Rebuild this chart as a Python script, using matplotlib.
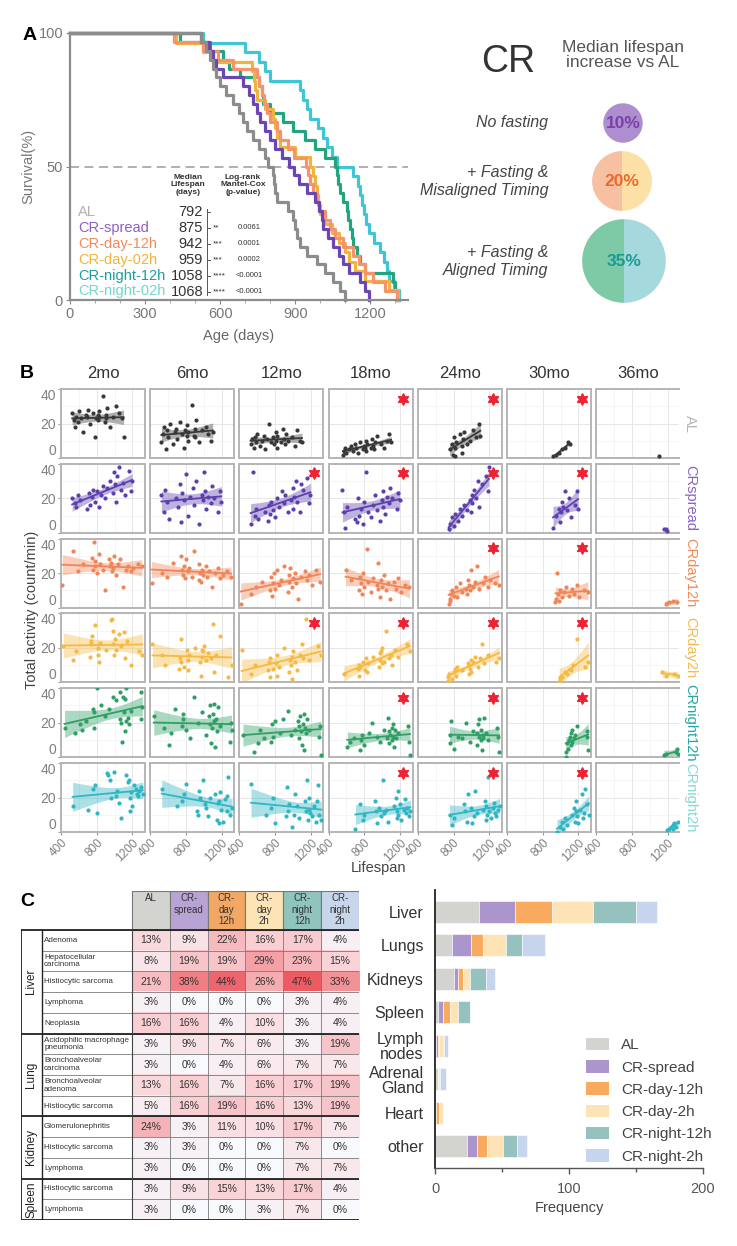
import numpy as np
import matplotlib.pyplot as plt
from matplotlib.colors import LinearSegmentedColormap
from matplotlib.patches import Rectangle, Patch
from matplotlib.lines import Line2D
from matplotlib.ticker import MultipleLocator

plt.rcParams['font.family'] = ['Liberation Sans', 'DejaVu Sans']

W, H = 737, 1246

# ---------------- data ----------------
groups = ['AL', 'CR-spread', 'CR-day-12h', 'CR-day-02h', 'CR-night-12h', 'CR-night-02h']
median_days = [792, 875, 942, 959, 1058, 1068]
sig_stars = ['', '**', '***', '***', '****', '****']
p_values = ['', '0.0061', '0.0001', '0.0002', '<0.0001', '<0.0001']

# age at death (days), one entry per mouse
life_AL = [525, 545, 560, 572, 585, 600, 625, 650, 675, 690, 705, 730, 755, 780, 792,
           810, 815, 820, 825, 870, 890, 900, 905, 918, 945, 985, 1020, 1050, 1080, 1100]
life_spread = [525, 555, 570, 585, 610, 690, 715, 730, 745, 758, 780, 800, 820, 845, 875,
               895, 915, 945, 980, 995, 1005, 1012, 1030, 1050, 1075, 1090, 1115, 1160, 1180, 1195]
life_day12 = [415, 530, 590, 650, 745, 755, 765, 775, 785, 800, 825, 838, 870, 895, 942,
              950, 958, 970, 985, 995, 1020, 1038, 1060, 1090, 1130, 1155, 1180, 1210, 1260, 1305]
life_day02 = [425, 530, 570, 725, 735, 740, 748, 780, 810, 818, 826, 838, 900, 959,
              970, 978, 985, 992, 1000, 1020, 1045, 1075, 1100, 1115, 1140, 1180, 1275, 1310]
life_night12 = [440, 560, 610, 635, 680, 755, 765, 772, 800, 850, 890, 940, 980, 1020, 1058,
                1065, 1072, 1080, 1090, 1105, 1112, 1118, 1125, 1132, 1145, 1158, 1180, 1290, 1300, 1310]
life_night02 = [530, 700, 755, 780, 800, 920, 930, 945, 960, 990, 1010, 1025, 1045, 1068,
                1130, 1150, 1160, 1168, 1175, 1182, 1195, 1215, 1240, 1255, 1265, 1275, 1295, 1315]

pie_labels = ['No fasting', '+ Fasting &\nMisaligned Timing', '+ Fasting &\nAligned Timing']
pie_pct = [10, 20, 35]

# panel B: activity (count/min) per age, mice ordered by lifespan (longest-lived last)
ages = ['2mo', '6mo', '12mo', '18mo', '24mo', '30mo', '36mo']
row_names = ['AL', 'CRspread', 'CRday12h', 'CRday2h', 'CRnight12h', 'CRnight2h']
act_AL = [
    [26, 22, 18, 24, 21, 27, 23, 15, 25, 24, 28, 20, 26, 12, 23, 25, 22, 27, 24, 36, 21, 25, 23, 29, 18, 24, 30, 26, 23, 12],
    [9, 14, 18, 5, 16, 12, 20, 8, 15, 17, 11, 21, 14, 6, 16, 13, 19, 10, 15, 31, 13, 17, 12, 22, 9, 16, 18, 14, 10, 15],
    [8, 11, 6, 12, 9, 14, 7, 10, 13, 5, 11, 20, 9, 12, 8, 15, 10, 6, 13, 9, 17, 11, 8, 14, 10, 12, 7, 16, 10, 9],
    [2, 4, 6, 3, 5, 7, 4, 8, 6, 3, 9, 5, 7, 6, 10, 4, 8, 6, 11, 7, 5, 9, 13, 8, 6, 10, 14, 9],
    [5, 8, 2, 12, 6, 1, 9, 14, 7, 3, 11, 15, 8, 10, 16, 12, 20, 13],
    [1, 2, 3, 5, 6, 9, 8],
    [1]]
act_spread = [
    [20, 17, 15, 22, 19, 14, 23, 16, 21, 25, 18, 24, 15, 22, 27, 20, 26, 30, 23, 35, 28, 18, 33, 38, 25, 29, 22, 36, 24, 30],
    [22, 12, 25, 18, 8, 20, 15, 28, 6, 23, 19, 34, 10, 21, 26, 16, 30, 5, 22, 19, 35, 24, 14, 21, 17, 27, 20, 12, 24, 18],
    [5, 35, 10, 14, 8, 12, 7, 16, 11, 18, 13, 9, 20, 15, 24, 17, 22, 12, 19, 26, 14, 21, 30, 18, 12, 28, 25, 32, 17, 22],
    [25, 12, 3, 15, 8, 6, 20, 10, 14, 5, 18, 35, 12, 9, 16, 22, 13, 7, 19, 24, 15, 11, 21, 17, 26, 20, 14, 23, 19],
    [2, 5, 9, 4, 11, 7, 14, 10, 16, 13, 19, 12, 22, 17, 25, 20, 30, 15, 28, 33, 24, 38],
    [3, 10, 14, 6, 12, 18, 15, 24, 13, 20, 9, 16, 24, 14],
    [2, 2, 1]]
act_day12 = [
    [13, 33, 21, 25, 29, 22, 38, 24, 27, 20, 31, 25, 22, 10, 28, 24, 26, 21, 23, 30, 19, 25, 28, 12, 22, 24, 21, 23, 25, 24],
    [14, 20, 18, 26, 30, 22, 19, 24, 17, 28, 21, 23, 18, 33, 16, 25, 20, 15, 22, 19, 24, 18, 21, 12, 20, 23, 17, 19, 21, 18],
    [2, 8, 12, 15, 10, 18, 7, 14, 20, 11, 22, 13, 16, 24, 9, 19, 15, 23, 12, 17, 20, 14, 5, 18, 21, 16, 19, 13, 22, 15],
    [22, 16, 10, 18, 14, 8, 20, 12, 34, 15, 9, 17, 13, 26, 11, 6, 16, 12, 19, 10, 14, 5, 15, 11, 17, 9, 13, 12],
    [2, 5, 4, 8, 10, 7, 12, 6, 14, 9, 11, 8, 16, 13, 10, 22, 12, 15, 24, 11, 14, 18, 12, 16, 14, 13],
    [3, 5, 20, 8, 4, 10, 6, 9, 12, 7, 11, 8, 13, 6, 10, 9],
    [2, 3, 4, 3]]
act_day02 = [
    [21, 13, 18, 15, 24, 22, 27, 33, 16, 20, 12, 23, 19, 36, 37, 22, 30, 16, 25, 19, 28, 21, 29, 14, 24, 10, 18, 16],
    [22, 16, 10, 8, 14, 25, 12, 9, 19, 13, 7, 16, 20, 12, 4, 15, 19, 18, 21, 13, 17, 14, 34, 6, 16, 27, 3, 10],
    [19, 5, 10, 7, 12, 3, 14, 8, 11, 4, 16, 9, 20, 6, 13, 10, 15, 2, 18, 12, 7, 16, 22, 14, 37, 13, 21, 16],
    [5, 8, 4, 10, 9, 12, 7, 14, 6, 11, 15, 9, 13, 17, 18, 11, 20, 12, 30, 14, 16, 10, 19, 15, 22, 18],
    [1, 3, 5, 2, 6, 8, 4, 9, 7, 11, 5, 10, 8, 13, 6, 12, 15, 9, 14, 22, 11, 16, 12, 14],
    [0, 2, 4, 3, 6, 5, 8, 7, 10, 25, 9, 12],
    [6, 4, 5, 4]]
act_night12 = [
    [17, 14, 19, 16, 21, 28, 17, 26, 40, 30, 24, 28, 35, 33, 22, 38, 20, 9, 35, 26, 15, 34, 40, 21, 23, 19, 27, 38, 22, 29],
    [24, 17, 7, 14, 28, 18, 22, 25, 16, 11, 35, 20, 26, 13, 24, 30, 19, 8, 17, 25, 31, 21, 6, 22, 15, 29, 18, 9, 20, 16],
    [13, 3, 8, 16, 11, 9, 19, 12, 21, 14, 22, 27, 13, 16, 21, 11, 18, 24, 15, 7, 19, 25, 4, 17, 14, 22, 16, 12, 18, 1],
    [6, 9, 11, 4, 10, 13, 7, 14, 20, 12, 9, 16, 11, 23, 8, 15, 13, 17, 10, 19, 12, 6, 16, 11, 14, 18, 9, 1],
    [13, 8, 21, 5, 12, 11, 20, 9, 15, 14, 7, 19, 12, 22, 10, 16, 4, 13, 11, 23, 14, 10, 17, 12, 3],
    [0, 3, 8, 5, 10, 12, 7, 14, 9, 16, 11, 13, 18, 12, 15, 4],
    [1, 2, 3, 5, 2]]
act_night02 = [
    [15, 13, 25, 27, 11, 34, 33, 30, 20, 35, 21, 24, 17, 8, 33, 29, 30, 20, 12, 23, 15, 27, 25, 22, 21, 24, 26, 22],
    [25, 15, 18, 22, 28, 12, 10, 24, 20, 30, 16, 14, 9, 20, 22, 7, 17, 18, 5, 23, 13, 6, 19, 21, 12, 32, 10, 14],
    [28, 10, 14, 20, 5, 9, 26, 12, 16, 3, 10, 22, 15, 8, 18, 12, 30, 7, 13, 20, 11, 9, 15, 6, 18, 27, 10, 7],
    [2, 16, 7, 10, 18, 12, 5, 14, 9, 30, 11, 13, 6, 15, 20, 8, 12, 24, 10, 16, 7, 13, 19, 11, 14, 9, 12],
    [10, 4, 8, 16, 12, 6, 22, 14, 5, 9, 24, 11, 13, 18, 7, 15, 10, 32, 12, 8, 14, 17, 11, 9, 13, 15],
    [0, 3, 6, 2, 8, 4, 10, 14, 6, 12, 18, 9, 5, 13, 22, 8, 11, 25, 16, 10],
    [1, 2, 3, 2, 4, 5, 3, 6]]
sig_panels = [[0, 0, 0, 1, 1, 1, 0],
              [0, 0, 1, 1, 1, 1, 0],
              [0, 0, 0, 0, 1, 1, 0],
              [0, 0, 1, 1, 1, 1, 0],
              [0, 0, 0, 1, 1, 1, 0],
              [0, 0, 0, 1, 1, 1, 0]]

# panel C table (% of mice)
tbl_headers = ['AL', 'CR-\nspread', 'CR-\nday\n12h', 'CR-\nday\n2h', 'CR-\nnight\n12h', 'CR-\nnight\n2h']
tbl_organs = ['Liver', 'Lung', 'Kidney', 'Spleen']
tbl_organ_rows = [5, 4, 3, 2]
tbl_rows = ['Adenoma', 'Hepatocellular\ncarcinoma', 'Histiocytic sarcoma', 'Lymphoma', 'Neoplasia',
            'Acidophilic macrophage\npneumonia', 'Bronchoalveolar\ncarcinoma', 'Bronchoalveolar\nadenoma',
            'Histiocytic sarcoma', 'Glomerulonephritis', 'Histiocytic sarcoma', 'Lymphoma',
            'Histiocytic sarcoma', 'Lymphoma']
tbl_vals = np.array([
    [13, 9, 22, 16, 17, 4],
    [8, 19, 19, 29, 23, 15],
    [21, 38, 44, 26, 47, 33],
    [3, 0, 0, 0, 3, 4],
    [16, 16, 4, 10, 3, 4],
    [3, 9, 7, 6, 3, 19],
    [3, 0, 4, 6, 7, 7],
    [13, 16, 7, 16, 17, 19],
    [5, 16, 19, 16, 13, 19],
    [24, 3, 11, 10, 17, 7],
    [3, 3, 0, 0, 7, 0],
    [3, 0, 0, 0, 7, 7],
    [3, 9, 15, 13, 17, 4],
    [3, 0, 0, 3, 7, 0]])

# panel C bars: tumour frequency by organ
bar_organs = ['Liver', 'Lungs', 'Kidneys', 'Spleen', 'Lymph\nnodes', 'Adrenal\nGland', 'Heart', 'other']
bar_legend = ['AL', 'CR-spread', 'CR-day-12h', 'CR-day-2h', 'CR-night-12h', 'CR-night-2h']
freq_AL = [33, 13, 14, 2, 1, 2, 0, 24]
freq_spread = [27, 14, 3, 4, 1, 0, 1, 7]
freq_day12 = [27, 9, 4, 5, 1, 0, 2, 8]
freq_day2 = [31, 17, 5, 6, 3, 1, 3, 12]
freq_night12 = [32, 12, 12, 9, 1, 1, 0, 10]
freq_night2 = [16, 17, 7, 0, 3, 4, 0, 8]

# ---------------- styles ----------------
lifes = [life_AL, life_spread, life_day12, life_day02, life_night12, life_night02]
acts = [act_AL, act_spread, act_day12, act_day02, act_night12, act_night02]
freqs = [freq_AL, freq_spread, freq_day12, freq_day2, freq_night12, freq_night2]
curve_cols = ['#8c8c8c', '#6a45b3', '#f4936c', '#f0b43c', '#22a57f', '#3fc6d6']
legend_cols = ['#b0b0b0', '#8e5ec6', '#f28a5c', '#f1b43a', '#1b9f9c', '#72d5cf']
dot_cols = ['#383838', '#5e3fae', '#f08658', '#f5b944', '#2f9f66', '#2fb6c2']
strip_cols = ['#b5b5b5', '#8a62c2', '#f08a58', '#f4bb4f', '#23a6a6', '#84d8d8']
bar_cols = ['#d3d3d0', '#ab95cd', '#f8ab5e', '#fde3b6', '#95c1be', '#c6d4ee']
head_cols = ['#d3d3cf', '#b9a3d4', '#f3a764', '#fde4b6', '#8fc5bd', '#c8d6ec']
pie_cols = [['#ad8ecf'], ['#f8c0a3', '#fde0a6'], ['#7fcaa6', '#a6d9de']]
pie_txt_cols = ['#7a3fa8', '#e96a2c', '#1b9a95']

fig = plt.figure(figsize=(W / 100, H / 100), dpi=100)


def px_axes(x0, y0, x1, y1):
    return fig.add_axes([x0 / W, 1 - y1 / H, (x1 - x0) / W, (y1 - y0) / H])


def ftext(x, y, s, **kw):
    return fig.text(x / W, 1 - y / H, s, **kw)


def fline(xs, ys, **kw):
    fig.add_artist(Line2D([x / W for x in xs], [1 - y / H for y in ys], **kw))


# ---------------- panel A ----------------
ftext(30, 35, 'A', fontsize=14, fontweight='bold', ha='center', va='center')
axA = px_axes(70, 33, 408, 300)
for i in [5, 4, 3, 2, 1, 0]:
    d = np.sort(lifes[i])
    n = len(d)
    t = np.concatenate([[0], d])
    s = 100 * (1 - np.arange(n + 1) / n)
    axA.step(t, s, where='post', color=curve_cols[i], lw=2.3, clip_on=False)
axA.axhline(50, color='#aaaaaa', ls=(0, (5, 3)), lw=1.3, zorder=0)
axA.set_xlim(0, 1350)
axA.set_ylim(0, 100)
axA.set_xticks([0, 300, 600, 900, 1200])
axA.xaxis.set_minor_locator(MultipleLocator(100))
axA.set_yticks([0, 50, 100])
for sp in ['top', 'right']:
    axA.spines[sp].set_visible(False)
for sp in ['left', 'bottom']:
    axA.spines[sp].set_color('#8c8c8c')
    axA.spines[sp].set_linewidth(1.6)
axA.tick_params(colors='#888888', labelcolor='#777777', labelsize=10.5, length=3, pad=2)
axA.tick_params(which='minor', colors='#999999', length=2)
axA.set_ylabel('Survival(%)', color='#777777', fontsize=10.5, labelpad=2)
axA.set_xlabel('Age (days)', color='#666666', fontsize=10.5, labelpad=6)

ftext(188, 185, 'Median\nLifespan\n(days)', fontsize=6, fontweight='bold', color='#333333',
      ha='center', va='center', linespacing=1.1)
ftext(243, 185, 'Log-rank\nMantel-Cox\n(p-value)', fontsize=6, fontweight='bold', color='#333333',
      ha='center', va='center', linespacing=1.1)
row_y = [212 + 15.9 * i for i in range(6)]
for i, g in enumerate(groups):
    ftext(78, row_y[i], g, fontsize=10.5, color=legend_cols[i], ha='left', va='center')
    ftext(203, row_y[i], str(median_days[i]), fontsize=10.5, color='#333333', ha='right', va='center')
    if i > 0:
        ftext(213, row_y[i], sig_stars[i], fontsize=6, color='#333333', ha='left', va='center')
        ftext(249, row_y[i], p_values[i], fontsize=5.5, color='#333333', ha='center', va='center')
fline([207, 207], [row_y[0] - 3, row_y[-1] + 3], color='#555555', lw=0.7)
for y in row_y:
    fline([207, 210], [y, y], color='#555555', lw=0.7)

# right side of A
ftext(508, 62, 'CR', fontsize=27, color='#333333', ha='center', va='center')
ftext(623, 55, 'Median lifespan\nincrease vs AL', fontsize=12.5, color='#555555', ha='center',
      va='center', linespacing=1.0)
pie_centers = [(623, 123), (622, 181), (624, 261)]
for k, (cx, cy) in enumerate(pie_centers):
    axp = px_axes(cx - 46, cy - 46, cx + 46, cy + 46)
    r = (pie_pct[k] / 35) ** 0.6
    shares = [1] * len(pie_cols[k])
    axp.pie(shares, colors=pie_cols[k], radius=r, startangle=90, counterclock=True,
            wedgeprops=dict(linewidth=0))
    axp.set_xlim(-1.1, 1.1)
    axp.set_ylim(-1.1, 1.1)
    axp.set_aspect('equal')
    axp.axis('off')
    axp.text(0, 0, f'{pie_pct[k]}%', fontsize=12.5, fontweight='bold', color=pie_txt_cols[k],
             ha='center', va='center')
    ftext(548, cy, pie_labels[k], fontsize=11.5, style='italic', color='#444444',
          ha='right', va='center', linespacing=1.25)

# ---------------- panel B ----------------
ftext(27, 373, 'B', fontsize=14, fontweight='bold', ha='center', va='center')


def lm_band(x, y):
    x = np.asarray(x, float)
    y = np.asarray(y, float)
    n = len(x)
    b, a = np.polyfit(x, y, 1)
    xs = np.linspace(x.min(), x.max(), 60)
    yh = a + b * xs
    s = np.sqrt(np.sum((y - (a + b * x)) ** 2) / (n - 2))
    sxx = np.sum((x - x.mean()) ** 2)
    se = s * np.sqrt(1 / n + (xs - x.mean()) ** 2 / sxx)
    tq = 2.0 + 4.0 / n
    return xs, yh, yh - tq * se, yh + tq * se


for i in range(6):
    top = 389 + i * 74.8
    life = np.sort(lifes[i])
    for j in range(7):
        left = 61 + j * 89.2
        wdt = 84 if j < 6 else 83
        ax = px_axes(left, top, left + wdt, top + 69)
        y = np.asarray(acts[i][j][:len(life)], float)
        x = life[len(life) - len(y):]
        if len(y) >= 3:
            xs, yh, lo, hi = lm_band(x, y)
            ax.fill_between(xs, lo, hi, color=dot_cols[i], alpha=0.4, lw=0, zorder=2)
            ax.plot(xs, yh, color=dot_cols[i], lw=1.3, zorder=3)
        ax.scatter(x, y, s=9, color=dot_cols[i], lw=0, zorder=4)
        ax.set_xlim(400, 1340 if j < 6 else 1329)
        ax.set_ylim(0, 40)
        ax.set_xticks([400, 800, 1200])
        ax.set_xticks([600, 1000], minor=True)
        ax.set_yticks([0, 20, 40])
        ax.set_yticks([10, 30], minor=True)
        ax.grid(True, which='major', color='#e6e6e6', lw=0.7)
        ax.grid(True, which='minor', color='#f1f1f1', lw=0.5)
        ax.set_axisbelow(True)
        for sp in ax.spines.values():
            sp.set_color('#b5b5b5')
            sp.set_linewidth(1.4)
        if j == 6:
            ax.spines['right'].set_visible(False)
        ax.tick_params(which='both', length=0)
        ax.tick_params(which='major', colors='#999999', labelcolor='#808080')
        if j == 0:
            ax.tick_params(axis='y', length=2.5, labelsize=10, pad=1)
            ylabs = ax.get_yticklabels()
            ylabs[0].set_va('bottom')
            ylabs[-1].set_va('top')
        else:
            ax.set_yticklabels([])
        if i == 5:
            ax.tick_params(axis='x', length=2.5, labelsize=8.5, pad=1)
            for lab in ax.get_xticklabels():
                lab.set_rotation(45)
                lab.set_ha('right')
                lab.set_rotation_mode('anchor')
        else:
            ax.set_xticklabels([])
        if sig_panels[i][j]:
            ax.plot([0.89], [0.86], marker=(6, 1, 0), ms=8.5, color='#ee2233', mec='#ee2233',
                    transform=ax.transAxes, clip_on=False, zorder=6)
        if i == 0:
            ax.set_title(ages[j], fontsize=12, color='#333333', pad=8)
    ftext(690, top + 34.5, row_names[i], fontsize=10.5, color=strip_cols[i], rotation=-90,
          ha='center', va='center')

ftext(32, 610, 'Total activity (count/min)', fontsize=10.5, color='#444444', rotation=90,
      ha='center', va='center')
ftext(378, 868, 'Lifespan', fontsize=10.5, color='#444444', ha='center', va='center')

# ---------------- panel C table ----------------
ftext(27, 902, 'C', fontsize=14, fontweight='bold', ha='center', va='center')
heat = LinearSegmentedColormap.from_list(
    'heat', [(0, '#f7f9fd'), (0.3, '#fad6da'), (0.65, '#f39ca1'), (1, '#ee5a62')])
axT = px_axes(21, 891, 359, 1220)
nrow = len(tbl_rows)
ncol = len(tbl_headers)
hh = 1.88
lab_w = 2.93
grp_w = 0.55
axT.imshow(tbl_vals, cmap=heat, vmin=0, vmax=47, extent=(0, ncol, nrow, 0),
           aspect='auto', interpolation='nearest')
for r in range(nrow):
    for c in range(ncol):
        axT.text(c + 0.5, r + 0.5, f'{tbl_vals[r, c]}%', fontsize=7.5, color='#333333',
                 ha='center', va='center')
for c in range(ncol):
    axT.add_patch(Rectangle((c, -hh), 1, hh, facecolor=head_cols[c], edgecolor='#777777', lw=0.8))
    axT.text(c + 0.5, -hh + 0.12, tbl_headers[c], fontsize=7, color='#333333', ha='center',
             va='top', linespacing=1.15)
for r in range(nrow + 1):
    axT.plot([-lab_w + grp_w, ncol], [r, r], color='#7a7a7a', lw=0.6)
for c in range(ncol + 1):
    axT.plot([c, c], [0, nrow], color='#7a7a7a', lw=0.6)
for r in range(nrow):
    axT.text(-lab_w + grp_w + 0.06, r + 0.5, tbl_rows[r], fontsize=5.8, color='#333333',
             ha='left', va='center', linespacing=1.1)
start = 0
for g, k in zip(tbl_organs, tbl_organ_rows):
    axT.text(-lab_w + grp_w / 2, start + k / 2, g, fontsize=8.5, rotation=90, color='#222222',
             ha='center', va='center')
    axT.plot([-lab_w, ncol], [start, start], color='#222222', lw=1.3)
    start += k
axT.plot([-lab_w, ncol], [nrow, nrow], color='#222222', lw=1.3)
axT.plot([-lab_w, -lab_w], [0, nrow], color='#222222', lw=1.3)
axT.plot([-lab_w + grp_w] * 2, [0, nrow], color='#222222', lw=1.0)
axT.plot([0, 0], [0, nrow], color='#444444', lw=0.8)
axT.set_xlim(-lab_w, ncol)
axT.set_ylim(nrow, -hh)
axT.axis('off')

# ---------------- panel C bars ----------------
axC = px_axes(435, 890, 703, 1168)
ypos = np.arange(len(bar_organs))
left = np.zeros(len(bar_organs))
for k in range(6):
    vals = np.asarray(freqs[k], float)
    axC.barh(ypos, vals, left=left, height=0.66, color=bar_cols[k], edgecolor='white',
             lw=0.4, label=bar_legend[k])
    left += vals
axC.set_ylim(len(bar_organs) - 1 + 0.66, -0.66)
axC.set_xlim(0, 200)
axC.set_yticks(ypos)
axC.set_yticklabels(bar_organs, fontsize=11.5, color='#333333', linespacing=1.0)
axC.set_xticks([0, 100, 200])
axC.set_xticks([50, 150], minor=True)
axC.tick_params(axis='y', length=0, pad=8)
axC.tick_params(axis='x', colors='#555555', labelsize=10.5, length=4, width=1, pad=6)
axC.tick_params(axis='x', which='minor', length=3, width=1, colors='#555555')
axC.spines['top'].set_visible(False)
axC.spines['right'].set_visible(False)
axC.spines['left'].set_color('#222222')
axC.spines['left'].set_linewidth(1.3)
axC.spines['bottom'].set_color('#555555')
axC.spines['bottom'].set_linewidth(1.0)
axC.set_xlabel('Frequency', fontsize=10.5, color='#444444', labelpad=4)
handles = [Patch(facecolor=bar_cols[k], label=bar_legend[k]) for k in range(6)]
axC.legend(handles=handles, loc='upper left', bbox_to_anchor=(572 / W, 1 - 1024 / H),
           bbox_transform=fig.transFigure, frameon=False, fontsize=11, handlelength=1.5,
           handleheight=0.9, labelspacing=0.5, handletextpad=0.8, labelcolor='#444444')

fig.savefig('out.png', dpi=100, facecolor='white')
